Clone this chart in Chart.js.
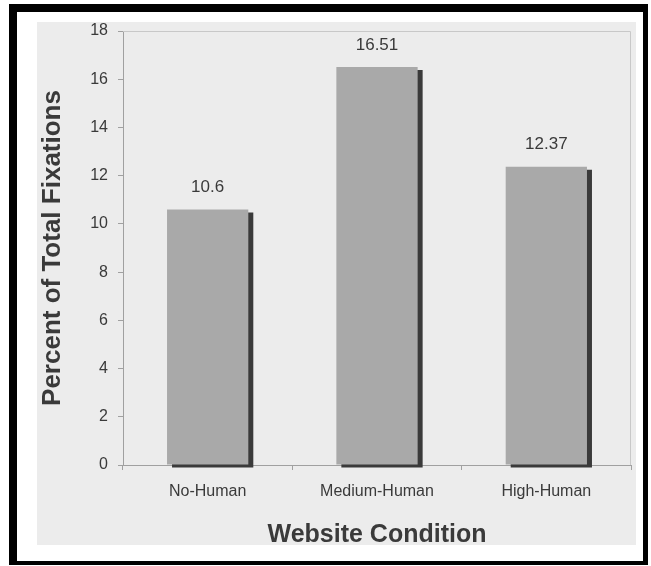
<!DOCTYPE html>
<html>
<head>
<meta charset="utf-8">
<script src="https://cdn.jsdelivr.net/npm/chart.js@4/dist/chart.umd.min.js"></script>
<style>
  html, body { margin: 0; padding: 0; background: #ffffff; width: 651px; height: 566px; overflow: hidden; }
  #frame { position: absolute; left: 9px; top: 4px; width: 626px; height: 549px;
           border-style: solid; border-color: #000; border-width: 8px 5px 4px 8px; background: #fff; }
  #panel { position: absolute; left: 37px; top: 22px; width: 599px; height: 523px; background: #ececec; }
  #wrap { position: absolute; left: 0; top: 0; width: 599px; height: 523px; }
</style>
</head>
<body>
<div id="frame"></div>
<div id="panel"><div id="wrap"><canvas id="c"></canvas></div></div>
<script>
const categories = ["No-Human", "Medium-Human", "High-Human"];
const fixations = [10.6, 16.51, 12.37];
const valueLabels = ["10.6", "16.51", "12.37"];
const yTicks = [0, 2, 4, 6, 8, 10, 12, 14, 16, 18];

const textColor = "#3a3a3a";
const fontFamily = "'Liberation Sans', Arial, sans-serif";

const shadowPlugin = {
  id: "barShadow",
  beforeDatasetDraw(chart) {
    const ctx = chart.ctx;
    ctx.save();
    ctx.shadowColor = "#3a3a3a";
    ctx.shadowOffsetX = 5;
    ctx.shadowOffsetY = 3;
    ctx.shadowBlur = 0;
  },
  afterDatasetDraw(chart) {
    chart.ctx.restore();
  }
};

const framePlugin = {
  id: "plotFrame",
  beforeDatasetsDraw(chart) {
    const { ctx, chartArea: a } = chart;
    ctx.save();
    ctx.strokeStyle = "#c8c8c8";
    ctx.lineWidth = 1;
    ctx.beginPath();
    ctx.moveTo(a.left, a.top + 0.5);
    ctx.lineTo(a.right - 0.5, a.top + 0.5);
    ctx.lineTo(a.right - 0.5, a.bottom);
    ctx.stroke();
    ctx.restore();
  }
};

const labelPlugin = {
  id: "valueLabels",
  afterDatasetsDraw(chart) {
    const ctx = chart.ctx;
    const meta = chart.getDatasetMeta(0);
    ctx.save();
    ctx.fillStyle = textColor;
    ctx.font = "17px " + fontFamily;
    ctx.textAlign = "center";
    ctx.textBaseline = "middle";
    meta.data.forEach((bar, i) => {
      ctx.fillText(valueLabels[i], bar.x, bar.y - 22);
    });
    ctx.restore();
  }
};

new Chart(document.getElementById("c"), {
  type: "bar",
  data: {
    labels: categories,
    datasets: [{
      data: fixations,
      backgroundColor: "#a9a9a9",
      borderWidth: 0,
      categoryPercentage: 1,
      barPercentage: 0.48,
      clip: false
    }]
  },
  options: {
    responsive: true,
    maintainAspectRatio: false,
    animation: false,
    devicePixelRatio: 1,
    layout: { padding: { top: 9, right: 5, left: 0, bottom: 0 } },
    plugins: { legend: { display: false }, tooltip: { enabled: false } },
    scales: {
      x: {
        afterFit(scale) { scale.height = 80; },
        grid: { display: true, drawOnChartArea: false, drawTicks: true, tickLength: 5, color: "#a0a0a0", offset: true },
        border: { display: true, color: "#a0a0a0" },
        ticks: { color: textColor, font: { family: fontFamily, size: 16 }, padding: 12, maxRotation: 0 },
        title: { display: true, text: "Website Condition", color: textColor,
                 font: { family: fontFamily, size: 25, weight: "bold", lineHeight: 0.78 }, padding: { top: 0, bottom: 0 } }
      },
      y: {
        min: 0, max: 18,
        afterFit(scale) { scale.width = 86; scale.paddingTop = 0; scale.paddingBottom = 0; },
        afterBuildTicks(scale) { scale.ticks = yTicks.map(v => ({ value: v })); },
        grid: { display: true, drawOnChartArea: false, drawTicks: true, tickLength: 5, color: "#a0a0a0" },
        border: { display: true, color: "#a0a0a0" },
        ticks: { color: textColor, font: { family: fontFamily, size: 16 }, padding: 10 },
        title: { display: true, text: "Percent of Total Fixations", color: textColor,
                 font: { family: fontFamily, size: 26, weight: "bold", lineHeight: 1 }, padding: { top: 3, bottom: 0 } }
      }
    }
  },
  plugins: [shadowPlugin, framePlugin, labelPlugin]
});
</script>
</body>
</html>
